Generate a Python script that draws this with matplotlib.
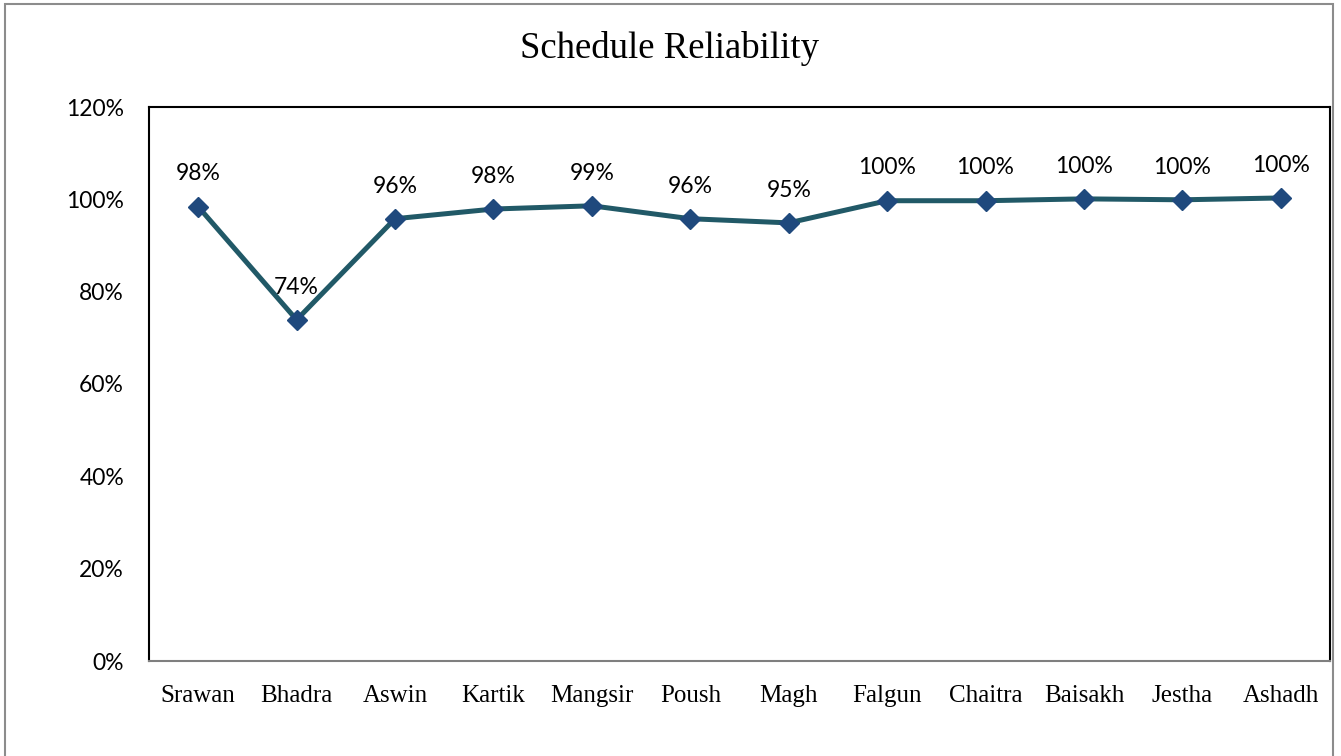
import matplotlib
matplotlib.use("Agg")
import matplotlib.pyplot as plt
from matplotlib.patches import Rectangle

months = ["Srawan", "Bhadra", "Aswin", "Kartik", "Mangsir", "Poush",
          "Magh", "Falgun", "Chaitra", "Baisakh", "Jestha", "Ashadh"]
reliability = [98.4, 73.9, 95.8, 97.9, 98.6, 95.8, 94.9, 99.7, 99.7, 100.1, 99.9, 100.3]
labels = ["98%", "74%", "96%", "98%", "99%", "96%", "95%", "100%", "100%", "100%", "100%", "100%"]
yticks = [0, 20, 40, 60, 80, 100, 120]

W, H = 1341, 756
fig = plt.figure(figsize=(W / 100, H / 100), dpi=100)
ax = fig.add_axes([149 / W, 1 - 661 / H, (1330 - 149) / W, (661 - 107) / H])

# outer chart border
fig.patches.append(Rectangle((5 / W, -0.05), (1333 - 5) / W, 1 - 4 / H + 0.05,
                             transform=fig.transFigure, fill=False,
                             edgecolor="#8c8c8c", linewidth=1.5))

x = range(len(months))
ax.plot(x, reliability, color="#215967", linewidth=3.6, marker="D",
        markersize=10, markerfacecolor="#1F497D", markeredgecolor="#1F497D", zorder=3)

for i, (v, lab) in enumerate(zip(reliability, labels)):
    ax.annotate(lab, (i, v), xytext=(0, 16), textcoords="offset points",
                ha="center", va="bottom", fontsize=16.5, family="Lato", color="black")

ax.set_xlim(-0.5, len(months) - 0.5)
ax.set_ylim(0, 120)
ax.set_yticks(yticks)
ax.set_yticklabels([f"{t}%" for t in yticks], family="Lato", fontsize=16.5)
ax.set_xticks(list(x))
ax.set_xticklabels(months, family="Liberation Serif", fontsize=18)
ax.tick_params(axis="both", length=0)
ax.tick_params(axis="y", pad=18)
ax.tick_params(axis="x", pad=17)

for side in ["left", "top", "right"]:
    ax.spines[side].set_color("black")
    ax.spines[side].set_linewidth(1.5)
ax.spines["bottom"].set_color("#7f7f7f")
ax.spines["bottom"].set_linewidth(1.5)

fig.text(669 / W, 1 - 49 / H, "Schedule Reliability", ha="center", va="center",
         family="Liberation Serif", fontsize=26.5)

fig.savefig("out.png", dpi=100)
